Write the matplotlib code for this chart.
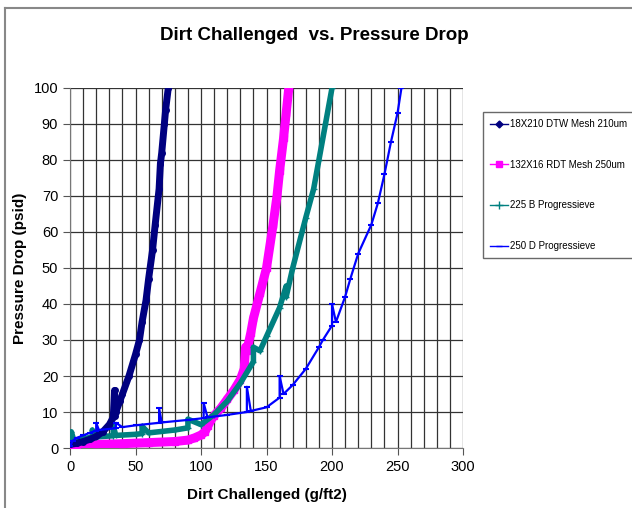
import numpy as np
import matplotlib
matplotlib.use("Agg")
import matplotlib.pyplot as plt
from matplotlib.lines import Line2D

plt.rcParams['font.family'] = ['Liberation Sans', 'DejaVu Sans']

# 18X210 DTW Mesh 210um
dtw_x = [0, 5, 10, 15, 20, 25, 30, 33, 34, 34, 35, 38, 40, 45, 50, 53, 55, 58, 60, 63, 65, 68, 69, 70, 72, 73, 75]
dtw_y = [1, 1.3, 1.8, 2.4, 3.2, 4.5, 6.5, 8.5, 16, 9, 10, 13, 15, 20, 26, 30, 35, 41, 47, 55, 62, 72, 79, 82, 90, 94, 100]

# 132X16 RDT Mesh 250um
rdt_x = [0, 5, 20, 40, 60, 80, 90, 95, 100, 103, 105, 108, 110, 115, 120, 125, 130, 133, 134, 135, 138, 140, 145, 150, 155, 158, 160, 163, 165, 167]
rdt_y = [0.5, 0.8, 1, 1.2, 1.5, 1.8, 2.2, 2.8, 3.6, 4.5, 6, 8, 9, 11, 13.5, 16, 19, 22, 28, 27, 32, 36, 43, 50, 62, 70, 77, 86, 93, 100]

# 225 B Progressieve
prog_b_x = [0, 1, 3, 5, 10, 17, 17, 20, 33, 33, 35, 50, 55, 55, 60, 80, 90, 90, 100, 110, 120, 130, 140, 140, 145, 150, 160, 165, 165, 170, 180, 186, 190, 195, 200]
prog_b_y = [1.5, 4.5, 2, 2.2, 2.6, 3, 5, 3.1, 3.4, 6, 3.5, 3.8, 4, 6, 4.2, 5, 5.6, 8, 6.5, 9.3, 13, 18, 24, 28, 27, 31, 39, 45, 42, 50, 64, 72, 80, 90, 100]

# 250 D Progressieve
prog_d_x = [0, 2, 5, 10, 15, 20, 20, 22, 35, 35, 40, 50, 68, 68, 70, 90, 102, 102, 105, 120, 135, 135, 138, 150, 160, 160, 163, 170, 180, 190, 193, 200, 200, 203, 210, 214, 220, 230, 235, 240, 245, 250, 253]
prog_d_y = [0.5, 2, 2.8, 3.5, 4.2, 4.8, 7, 5, 5.5, 7, 5.8, 6.3, 7, 11, 7.1, 7.8, 8.3, 12.5, 8.5, 9.2, 10, 17, 10.3, 11.3, 14, 20, 15, 17.5, 22, 28, 30, 34, 40, 35, 42, 47, 54, 62, 68, 76, 85, 93, 100]

x_ticks = [0, 50, 100, 150, 200, 250, 300]
y_ticks = [0, 10, 20, 30, 40, 50, 60, 70, 80, 90, 100]
labels = ['18X210 DTW Mesh 210um', '132X16 RDT Mesh 250um', '225 B Progressieve', '250 D Progressieve']

fig = plt.figure(figsize=(6.32, 5.08), dpi=100)
ax = fig.add_axes([0.1108, 0.1181, 0.6218, 0.7087])

ax.plot(rdt_x, rdt_y, color='#ff00ff', lw=6.5, marker='s', ms=4, zorder=3, solid_capstyle='butt')
ax.plot(prog_b_x, prog_b_y, color='#008080', lw=4, marker='+', ms=5, mew=1, zorder=4)
ax.plot(dtw_x, dtw_y, color='#000080', lw=5, marker='o', ms=4, zorder=5)
ax.plot(prog_d_x, prog_d_y, color='#0000ff', lw=1.6, marker='_', ms=4, mew=1.5, zorder=6)

ax.set_xlim(0, 300)
ax.set_ylim(0, 100)
ax.set_xticks(x_ticks)
ax.set_yticks(y_ticks)
ax.set_xticks(np.arange(0, 301, 10), minor=True)
ax.grid(True, which='both', color='#333333', lw=0.9)
ax.tick_params(which='minor', length=0)
ax.tick_params(which='major', length=5, direction='out', labelsize=10.5, color='#555555')
ax.set_axisbelow(True)
for s in ['top', 'right']:
    ax.spines[s].set_visible(False)
for s in ['left', 'bottom']:
    ax.spines[s].set_color('#777777')

ax.set_xlabel('Dirt Challenged (g/ft2)', fontsize=11, fontweight='bold', labelpad=10)
ax.set_ylabel('Pressure Drop (psid)', fontsize=11, fontweight='bold', labelpad=5)
fig.text(0.498, 0.93, 'Dirt Challenged  vs. Pressure Drop', ha='center', va='center',
         fontsize=13.5, fontweight='bold')

handles = [
    Line2D([], [], color='#000080', marker='D', ms=3.5, lw=1),
    Line2D([], [], color='#ff00ff', marker='s', ms=4.5, lw=1),
    Line2D([], [], color='#008080', marker='+', ms=6, lw=1),
    Line2D([], [], color='#0000ff', marker='_', ms=4, lw=1),
]
leg = fig.legend(handles, labels, loc='upper left', bbox_to_anchor=(0.764, 0.78),
                 fontsize=7, frameon=True, fancybox=False, labelspacing=3.15,
                 handlelength=1.8, handletextpad=0.2, borderpad=0.75, borderaxespad=0)
leg.get_frame().set_edgecolor('#444444')
leg.get_frame().set_linewidth(1)

# chart area border (top and left visible)
fig.add_artist(Line2D([0.008, 1], [0.984, 0.984], color='#888888', lw=1.5, transform=fig.transFigure))
fig.add_artist(Line2D([0.008, 0.008], [0, 0.984], color='#888888', lw=1.5, transform=fig.transFigure))

fig.savefig('out.png', dpi=100)
